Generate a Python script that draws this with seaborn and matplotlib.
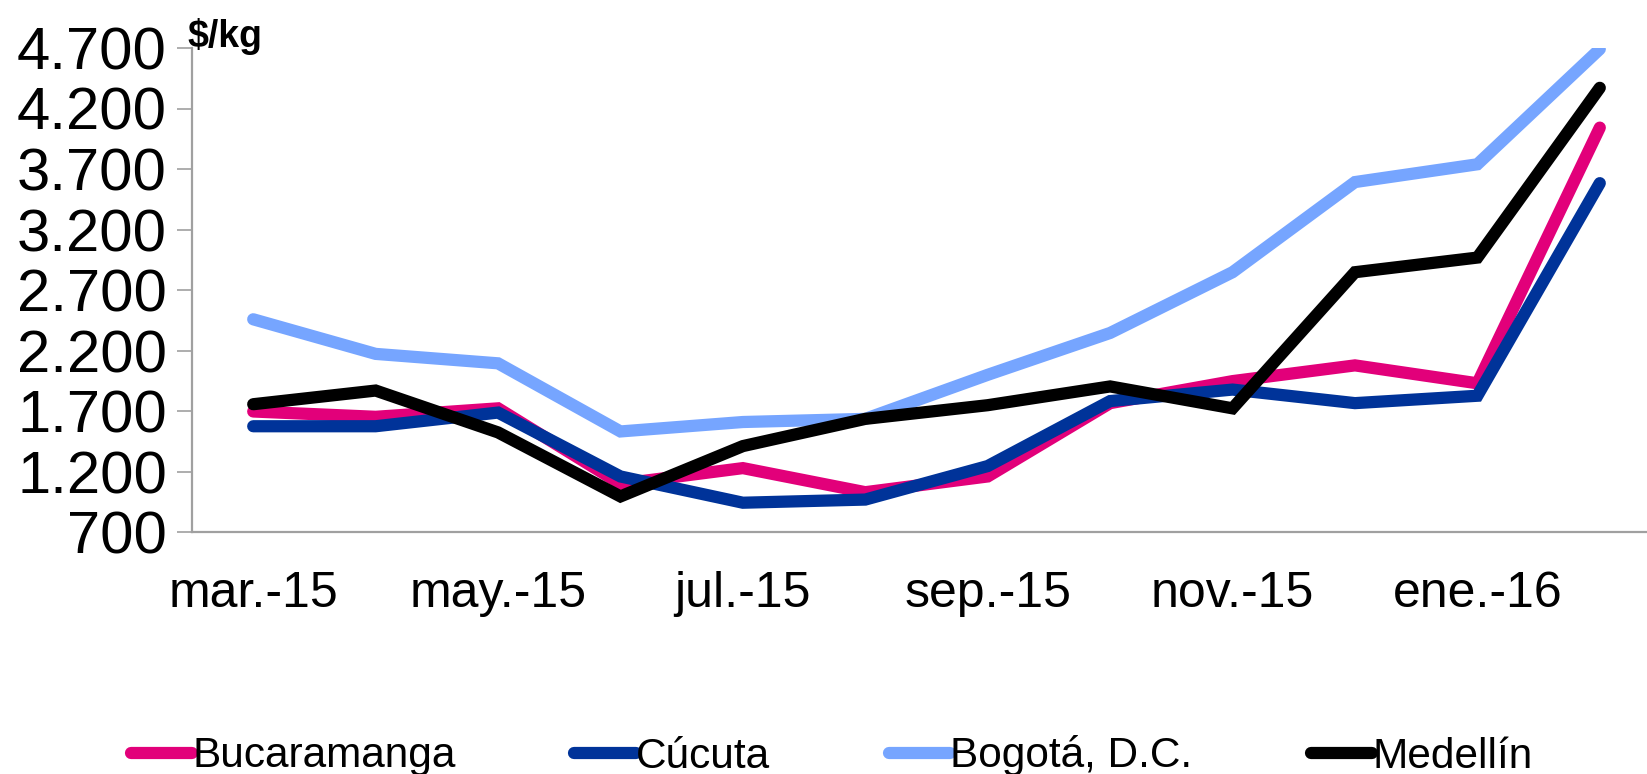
import matplotlib
matplotlib.use("Agg")
import matplotlib.pyplot as plt
import seaborn as sns
import pandas as pd
from matplotlib.ticker import FuncFormatter

# DATA (precio mayorista, $/kg)
months = ["mar.-15", "abr.-15", "may.-15", "jun.-15", "jul.-15", "ago.-15",
          "sep.-15", "oct.-15", "nov.-15", "dic.-15", "ene.-16", "feb.-16"]
bucaramanga = [1696, 1652, 1722, 1098, 1228, 1029, 1159, 1765, 1947, 2077, 1929, 4042]
cucuta = [1574, 1574, 1687, 1159, 942, 968, 1245, 1782, 1877, 1765, 1826, 3583]
bogota = [2458, 2172, 2094, 1531, 1609, 1635, 1999, 2345, 2847, 3592, 3739, 4691]
medellin = [1756, 1869, 1523, 994, 1410, 1635, 1748, 1903, 1722, 2847, 2968, 4371]
cities = ["Bucaramanga", "Cúcuta", "Bogotá, D.C.", "Medellín"]
colors = ["#E2007A", "#003399", "#76A5FF", "#000000"]
y_ticks = [700, 1200, 1700, 2200, 2700, 3200, 3700, 4200, 4700]

rows = []
for city, vals in zip(cities, [bucaramanga, cucuta, bogota, medellin]):
    for i, v in enumerate(vals):
        rows.append({"pos": i, "mes": months[i], "ciudad": city, "precio": v})
df = pd.DataFrame(rows)

sns.set_theme(style="white")
plt.rcParams["font.family"] = ["Liberation Sans", "DejaVu Sans"]
plt.rcParams["text.color"] = "black"

fig = plt.figure(figsize=(16.47, 7.74), dpi=100)
ax = fig.add_axes([192 / 1647, 1 - 532 / 774, (1661 - 192) / 1647, (532 - 48) / 774])

sns.lineplot(data=df, x="pos", y="precio", hue="ciudad", hue_order=cities,
             palette=dict(zip(cities, colors)), linewidth=8.8,
             solid_capstyle="round", solid_joinstyle="miter", ax=ax, legend=False)

ax.set_xlim(-0.5, len(months) - 0.5)
ax.set_ylim(700, 4700)
ax.set_yticks(y_ticks)
ax.yaxis.set_major_formatter(FuncFormatter(lambda v, p: f"{v:,.0f}".replace(",", ".")))
ax.set_xticks(range(0, len(months), 2))
ax.set_xticklabels(months[::2])
ax.set_xlabel("")
ax.set_ylabel("")

gray = "#A0A0A0"
for s in ["top", "right"]:
    ax.spines[s].set_visible(False)
for s in ["left", "bottom"]:
    ax.spines[s].set_color(gray)
    ax.spines[s].set_linewidth(1.6)
ax.tick_params(axis="y", which="major", length=11, width=1.2, color=gray,
               direction="out", left=True, pad=7, labelsize=43, labelcolor="black")
ax.tick_params(axis="x", length=0, pad=28, labelsize=36, labelcolor="black")

fig.text(187 / 1647, 1 - 18 / 774, "$/kg", fontsize=27, fontweight="bold",
         va="top", ha="left", color="black")

handles = [plt.Line2D([], [], color=c, linewidth=8.8, solid_capstyle="round")
           for c in colors]
fig.legend(handles, cities, loc="center left",
           bbox_to_anchor=(131 / 1647, 1 - 756 / 774), ncol=4, frameon=False,
           fontsize=30.5, handlelength=1.45, handletextpad=0.0, columnspacing=2.8,
           borderpad=0, borderaxespad=0, labelcolor="black")

fig.savefig("out.png", dpi=100)
